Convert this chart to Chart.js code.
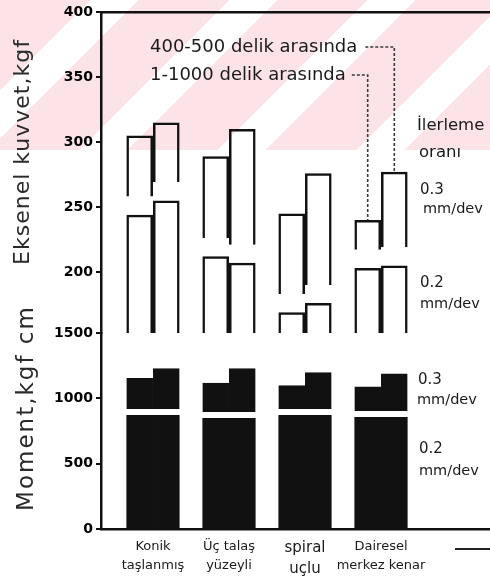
<!DOCTYPE html>
<html lang="tr">
<head>
<meta charset="utf-8">
<title>Eksenel kuvvet ve moment</title>
<script src="https://cdn.jsdelivr.net/npm/chart.js@4.4.1/dist/chart.umd.min.js"></script>
<style>
  html, body { margin: 0; padding: 0; background: #fff; }
  #wrap { position: relative; width: 490px; height: 584px; overflow: hidden; }
  #band {
    position: absolute; left: 0; top: 0; width: 490px; height: 150px;
    background: repeating-linear-gradient(135deg, #fbe3e8 0px, #fbe3e8 64px, #ffffff 64px, #ffffff 98px);
  }
  #wrap canvas { position: absolute; left: 0; top: 0; }
</style>
</head>
<body>
<div id="wrap">
  <div id="band"></div>
  <canvas id="chart" width="490" height="584"></canvas>
</div>
<script>
// Matkap ucu geometrisi
const categories = [['Konik', 'taşlanmış'], ['Üç talaş', 'yüzeyli'], ['spiral', 'uçlu'], ['Dairesel', 'merkez kenar']];

// Eksenel kuvvet, kgf (sol: 1-1000 delik arasında, sağ: 400-500 delik arasında)
const force03Holes1000 = [305, 289, 245, 240];
const force03Holes400 = [315, 310, 276, 277];
const force02Holes1000 = [244, 212, 169, 203];
const force02Holes400 = [255, 207, 176, 205];

// Moment, kgf cm
const moment03Holes1000 = [1155, 1120, 1100, 1090];
const moment03Holes400 = [1230, 1230, 1200, 1190];
const moment02Holes1000 = [872, 850, 872, 858];
const moment02Holes400 = [872, 850, 872, 858];

const forceTicks = [200, 250, 300, 350, 400];
const momentTicks = [0, 500, 1000, 1500];

const INK = '#111111';
const FONT = "'DejaVu Sans', 'Liberation Sans', sans-serif";
const FORCE_GAP = 14; // kgf left open between the 0.2 and 0.3 outlines

const points = (vals) => vals.map((v, i) => ({ x: i + 1, y: v }));
const spans = (lo, hi, gap) => hi.map((v, i) => ({ x: i + 1, y: [lo[i] + gap, v] }));

const outline = { backgroundColor: 'rgba(0,0,0,0)', borderColor: INK, borderWidth: 2.5, borderSkipped: 'bottom' };
const solid = { backgroundColor: INK, borderWidth: 0 };
const capped = { backgroundColor: INK, borderColor: '#ffffff', borderWidth: { top: 0, right: 0, bottom: 6, left: 0 }, borderSkipped: false };

const datasets = [
  { key: 'f03L', stack: 'L', yAxisID: 'yF', data: spans(force02Holes1000, force03Holes1000, FORCE_GAP), ...outline },
  { key: 'f03R', stack: 'R', yAxisID: 'yF', data: spans(force02Holes400, force03Holes400, FORCE_GAP), ...outline },
  { key: 'f02L', stack: 'L', yAxisID: 'yF', data: points(force02Holes1000), ...outline },
  { key: 'f02R', stack: 'R', yAxisID: 'yF', data: points(force02Holes400), ...outline },
  { key: 'm03L', stack: 'L', yAxisID: 'yM', data: spans(moment02Holes1000, moment03Holes1000, 0), ...capped },
  { key: 'm03R', stack: 'R', yAxisID: 'yM', data: spans(moment02Holes400, moment03Holes400, 0), ...capped },
  { key: 'm02L', stack: 'L', yAxisID: 'yM', data: points(moment02Holes1000), ...solid },
  { key: 'm02R', stack: 'R', yAxisID: 'yM', data: points(moment02Holes400), ...solid }
];

function valueAxis(ticks, min, max, weight) {
  return {
    type: 'linear', position: 'left', stack: 'panels', stackWeight: weight,
    min: min, max: max, beginAtZero: false, stacked: false,
    afterBuildTicks: (s) => { s.ticks = ticks.map((v) => ({ value: v })); },
    afterFit: (s) => { s.width = 101; },
    grid: { display: true, drawOnChartArea: false, drawTicks: true, tickLength: 5, color: INK, lineWidth: 2 },
    border: { display: true, color: INK, width: 2.5 },
    ticks: { color: '#000', padding: 3, font: { family: FONT, size: 14, weight: 'bold' }, callback: (v) => String(v) }
  };
}

function vText(ctx, text, x, y, size, spacing) {
  ctx.save();
  ctx.translate(x, y);
  ctx.rotate(-Math.PI / 2);
  ctx.font = size + 'px ' + FONT;
  if ('letterSpacing' in ctx) ctx.letterSpacing = spacing + 'px';
  ctx.textAlign = 'center';
  ctx.textBaseline = 'middle';
  ctx.fillStyle = '#2a2a2a';
  ctx.fillText(text, 0, 0);
  ctx.restore();
}

function text(ctx, str, x, y, size, weight) {
  ctx.font = (weight || 'normal') + ' ' + size + 'px ' + FONT;
  ctx.textAlign = 'left';
  ctx.textBaseline = 'middle';
  ctx.fillStyle = '#1a1a1a';
  ctx.fillText(str, x, y);
  return ctx.measureText(str).width;
}

const annotate = {
  id: 'annotate',
  afterDraw(chart) {
    const { ctx } = chart;
    const bar = (key, i) => chart.getDatasetMeta(chart.data.datasets.findIndex((d) => d.key === key)).data[i];

    vText(ctx, 'Eksenel kuvvet,kgf', 23, 152, 22, 1);
    vText(ctx, 'Moment,kgf cm', 27, 408, 23, 2);

    ctx.save();
    // Leader labels pointing at the last group's 0.3 bars
    const last = categories.length - 1;
    const wR = text(ctx, '400-500 delik arasında', 150, 47, 18);
    const wL = text(ctx, '1-1000 delik arasında', 150, 75, 18);
    const bR = bar('f03R', last);
    const bL = bar('f03L', last);
    ctx.strokeStyle = '#3a3a3a';
    ctx.lineWidth = 1.6;
    ctx.setLineDash([3, 2]);
    ctx.beginPath();
    ctx.moveTo(150 + wR + 8, 47); ctx.lineTo(bR.x, 47); ctx.lineTo(bR.x, bR.y);
    ctx.moveTo(150 + wL + 6, 75); ctx.lineTo(bL.x, 75); ctx.lineTo(bL.x, bL.y);
    ctx.stroke();
    ctx.setLineDash([]);

    // Feed-rate labels on the right
    text(ctx, 'İlerleme', 417, 126, 16.5);
    text(ctx, 'oranı', 419, 153, 16.5);
    text(ctx, '0.3', 420, 190, 15);
    text(ctx, 'mm/dev', 423, 209, 14.5);
    text(ctx, '0.2', 420, 283, 15);
    text(ctx, 'mm/dev', 420, 304, 14.5);
    text(ctx, '0.3', 418, 380, 15);
    text(ctx, 'mm/dev', 417, 400, 14.5);
    text(ctx, '0.2', 419, 449, 15);
    text(ctx, 'mm/dev', 419, 471, 14.5);

    ctx.strokeStyle = '#222';
    ctx.lineWidth = 2;
    ctx.beginPath();
    ctx.moveTo(455, 549); ctx.lineTo(490, 549);
    ctx.stroke();
    ctx.restore();
  }
};

new Chart(document.getElementById('chart'), {
  type: 'bar',
  data: { datasets },
  plugins: [annotate],
  options: {
    responsive: false,
    devicePixelRatio: 1,
    animation: false,
    layout: { padding: 0 },
    categoryPercentage: 0.7,
    barPercentage: 1,
    plugins: { legend: { display: false }, tooltip: { enabled: false } },
    scales: {
      x: {
        type: 'linear', position: 'bottom', min: 0.316, max: 5.434, offset: false,
        afterBuildTicks: (s) => { s.ticks = categories.map((c, i) => ({ value: i + 1 })); },
        afterFit: (s) => { s.height = 55; },
        grid: { display: false, drawTicks: false },
        border: { display: true, color: INK, width: 2.5 },
        ticks: {
          autoSkip: false, maxRotation: 0, padding: 9, color: '#1a1a1a',
          font: (c) => ({ family: FONT, size: c.index === 2 ? 15 : 13, lineHeight: 1.4 }),
          callback: (v) => categories[v - 1] || ''
        }
      },
      xTop: {
        type: 'linear', axis: 'x', position: 'top',
        ticks: { display: false },
        grid: { display: false, drawTicks: false },
        border: { display: true, color: INK, width: 2.5 },
        afterFit: (s) => { s.height = 12; }
      },
      yM: valueAxis(momentTicks, 0, 1500, 196),
      yF: valueAxis(forceTicks, 153, 400, 321)
    }
  }
});
</script>
</body>
</html>
